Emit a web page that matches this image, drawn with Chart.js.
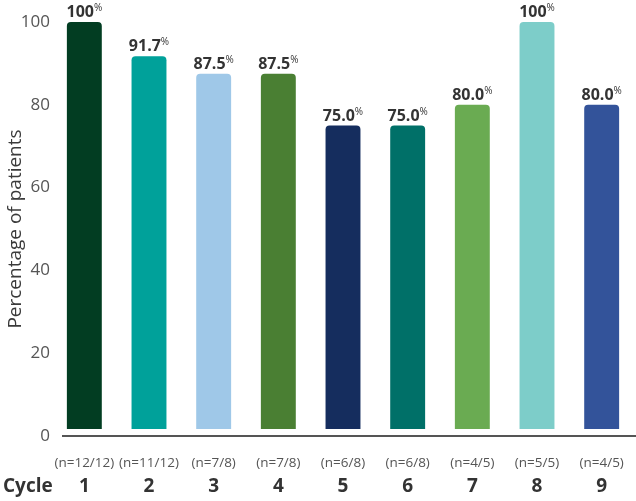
<!DOCTYPE html>
<html>
<head>
<meta charset="utf-8">
<script src="https://cdn.jsdelivr.net/npm/chart.js@4"></script>
<style>
  html, body { margin: 0; padding: 0; background: #fff; }
  #grafico { display: block; }
</style>
</head>
<body>
<canvas id="grafico" width="636" height="501"></canvas>
<script>
// Dados do gráfico
const ciclos = ['1', '2', '3', '4', '5', '6', '7', '8', '9'];
const amostras = ['(n=12/12)', '(n=11/12)', '(n=7/8)', '(n=7/8)', '(n=6/8)', '(n=6/8)', '(n=4/5)', '(n=5/5)', '(n=4/5)'];
const valores = [100, 91.7, 87.5, 87.5, 75.0, 75.0, 80.0, 100, 80.0];
const cores = ['#023d22', '#00a19a', '#9fc8e8', '#4a7f33', '#152d5e', '#007068', '#6aab52', '#7dcdc9', '#33539a'];
const ticksY = [0, 20, 40, 60, 80, 100];

const fonte = '"Open Sans", "Noto Sans", sans-serif';

// Rótulos de valor, eixo e categorias
const extras = {
  id: 'extras',
  afterDatasetsDraw(chart) {
    const ctx = chart.ctx;
    const meta = chart.getDatasetMeta(0);
    const x = chart.scales.x;
    const y = chart.scales.y;
    ctx.save();

    // linha do eixo
    const y0 = y.getPixelForValue(0);
    ctx.strokeStyle = '#555';
    ctx.lineWidth = 2;
    ctx.beginPath();
    ctx.moveTo(chart.chartArea.left + 10, y0);
    ctx.lineTo(chart.width, y0);
    ctx.stroke();

    // valores acima das barras
    meta.data.forEach((barra, i) => {
      const texto = valores[i] === 100 ? '100' : valores[i].toFixed(1);
      ctx.font = 'bold 16px ' + fonte;
      const w1 = ctx.measureText(texto).width;
      ctx.font = '10px ' + fonte;
      const w2 = ctx.measureText('%').width;
      const inicio = barra.x - (w1 + w2) / 2;
      const base = barra.y - 5;
      ctx.fillStyle = '#333';
      ctx.textAlign = 'left';
      ctx.textBaseline = 'alphabetic';
      ctx.font = 'bold 16px ' + fonte;
      ctx.fillText(texto, inicio, base);
      ctx.font = '10px ' + fonte;
      ctx.fillText('%', inicio + w1, base - 6);
    });

    // rótulos das categorias
    ctx.textAlign = 'center';
    ctx.textBaseline = 'middle';
    ciclos.forEach((c, i) => {
      const px = x.getPixelForValue(i);
      ctx.fillStyle = '#555';
      ctx.font = '13.5px ' + fonte;
      ctx.fillText(amostras[i], px, 463);
      ctx.fillStyle = '#333';
      ctx.font = 'bold 19px ' + fonte;
      ctx.fillText(c, px, 487);
    });
    ctx.textAlign = 'left';
    ctx.fillText('Cycle', 3, 487);
    ctx.restore();
  }
};

new Chart(document.getElementById('grafico'), {
  type: 'bar',
  data: {
    labels: ciclos,
    datasets: [{
      data: valores,
      base: 1.7,
      backgroundColor: cores,
      borderRadius: { topLeft: 4, topRight: 4, bottomLeft: 0, bottomRight: 0 },
      borderSkipped: false,
      barPercentage: 0.54,
      categoryPercentage: 1
    }]
  },
  options: {
    responsive: false,
    animation: false,
    layout: { padding: { top: 22, bottom: 65, right: 2, left: 0 } },
    plugins: {
      legend: { display: false },
      tooltip: { enabled: false }
    },
    scales: {
      x: {
        display: false,
        offset: true
      },
      y: {
        min: 0,
        max: 100,
        afterBuildTicks: s => { s.ticks = ticksY.map(v => ({ value: v })); },
        afterFit: s => { s.width = 52; },
        grid: { display: false, drawTicks: false },
        border: { display: false },
        ticks: {
          padding: 2,
          color: '#555',
          font: { family: fonte, size: 17 }
        },
        title: {
          display: true,
          text: 'Percentage of patients',
          color: '#3a3a3a',
          padding: { top: 4, bottom: 0 },
          font: { family: fonte, size: 19 }
        }
      }
    }
  },
  plugins: [extras]
});
</script>
</body>
</html>
